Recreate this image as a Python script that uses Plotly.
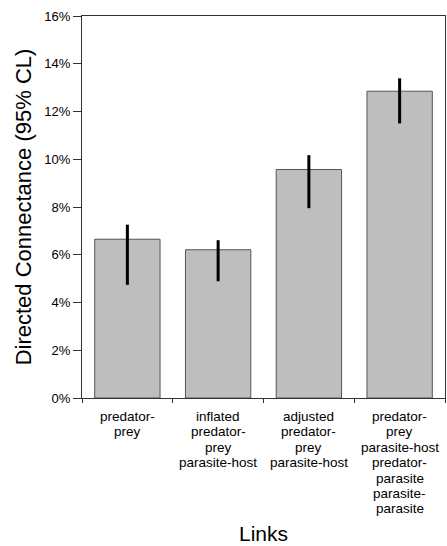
import plotly.graph_objects as go

categories = ["predator-prey",
              "inflated predator-prey parasite-host",
              "adjusted predator-prey parasite-host",
              "predator-prey parasite-host predator-parasite parasite-parasite"]
category_lines = [
    ["predator-", "prey"],
    ["inflated", "predator-", "prey", "parasite-host"],
    ["adjusted", "predator-", "prey", "parasite-host"],
    ["predator-", "prey", "parasite-host", "predator-", "parasite", "parasite-", "parasite"],
]
values = [6.65, 6.21, 9.57, 12.85]
ci_upper = [7.26, 6.61, 10.17, 13.39]
ci_lower = [4.74, 4.89, 7.95, 11.50]

err_plus = [u - v for u, v in zip(ci_upper, values)]
err_minus = [v - l for v, l in zip(values, ci_lower)]

font = "Liberation Sans, Arial, Helvetica, sans-serif"

fig = go.Figure(go.Bar(
    x=categories, y=values, width=0.72,
    marker=dict(color="#bebebe", line=dict(color="#555555", width=1)),
    error_y=dict(type="data", symmetric=False, array=err_plus, arrayminus=err_minus,
                 color="black", thickness=3, width=0),
))

# multi-line category labels with tight line spacing
for cat, lines in zip(categories, category_lines):
    for i, line in enumerate(lines):
        fig.add_annotation(
            x=cat, xref="x", y=0, yref="y",
            text=line, showarrow=False,
            yanchor="middle", xanchor="center",
            yshift=-(18.5 + 15.4 * i),
            borderpad=0,
            font=dict(size=13.5, family=font, color="black"),
        )

fig.update_layout(
    width=447, height=546,
    margin=dict(l=82, r=1, t=16, b=146),
    paper_bgcolor="white", plot_bgcolor="white",
    font=dict(family=font, color="black"),
    showlegend=False,
    bargap=0.28,
)
fig.update_xaxes(
    showline=True, linecolor="#333333", linewidth=1, mirror=True,
    ticks="outside", ticklen=4, tickcolor="#333333", tickson="boundaries",
    showticklabels=False,
    title=dict(text="Links", font=dict(size=21, family=font), standoff=128),
    showgrid=False,
)
fig.update_yaxes(
    range=[0, 16], dtick=2, ticksuffix="%",
    showline=True, linecolor="#333333", linewidth=1, mirror=True,
    ticks="outside", ticklen=8, tickcolor="#333333",
    tickfont=dict(size=13, family=font),
    title=dict(text="Directed Connectance (95% CL)", font=dict(size=22, family=font), standoff=6),
    showgrid=False, zeroline=False,
)

fig.write_html("out.html", config={"displayModeBar": False},
               post_script="document.body.style.margin='0';")
